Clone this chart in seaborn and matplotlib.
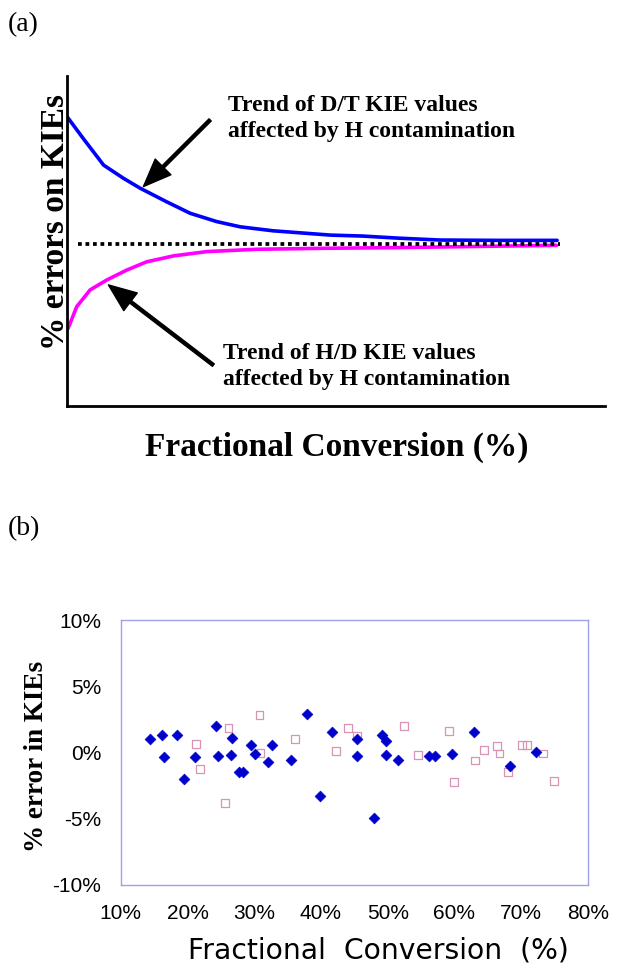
import numpy as np
import pandas as pd
import matplotlib
matplotlib.use("Agg")
import matplotlib.pyplot as plt
import seaborn as sns

sns.set_style("white")
plt.rcParams['font.family'] = ['Liberation Serif', 'DejaVu Serif']
plt.rcParams['text.color'] = 'black'
plt.rcParams['xtick.color'] = 'black'
plt.rcParams['ytick.color'] = 'black'

# (a) schematic trends, axis-fraction units
conv_dt = [0.000, 0.030, 0.068, 0.105, 0.136, 0.185, 0.229, 0.278, 0.322, 0.383, 0.489, 0.550, 0.613, 0.693, 0.799, 0.911]
err_dt = [0.877, 0.811, 0.730, 0.690, 0.660, 0.619, 0.584, 0.559, 0.543, 0.531, 0.518, 0.515, 0.509, 0.503, 0.502, 0.502]
conv_hd = [0.002, 0.018, 0.043, 0.074, 0.111, 0.148, 0.198, 0.260, 0.353, 0.476, 0.613, 0.737, 0.910]
err_hd = [0.235, 0.301, 0.352, 0.382, 0.412, 0.437, 0.455, 0.468, 0.475, 0.478, 0.480, 0.483, 0.487]
ref_x = [0.020, 0.916]
ref_level = 0.491

# (b) measured errors (%)
conv_filled = [14.4, 16.2, 16.55, 18.4, 19.55, 21.1, 24.3, 24.6, 26.6, 26.5, 27.65, 28.3, 29.5, 30.05,
               32.05, 32.6, 35.5, 37.9, 39.9, 41.6, 45.4, 45.4, 49.15, 49.75, 49.8, 48.0, 51.6, 56.25,
               57.1, 59.65, 62.9, 68.25, 72.2]
err_filled = [1.0, 1.33, -0.33, 1.35, -2.0, -0.35, 2.03, -0.28, 1.08, -0.18, -1.48, -1.48, 0.53, -0.15,
              -0.73, 0.55, -0.55, 2.9, -3.3, 1.58, 1.03, -0.25, 1.33, 0.83, -0.18, -4.93, -0.55, -0.28,
              -0.28, -0.08, 1.55, -1.0, 0.03]
conv_open = [21.25, 21.9, 26.15, 25.65, 30.8, 30.95, 36.1, 42.3, 44.0, 45.35, 52.5, 54.5, 59.2, 59.95,
             63.05, 64.45, 66.35, 66.75, 68.05, 70.15, 70.85, 73.25, 74.9]
err_open = [0.65, -1.23, 1.83, -3.8, 2.83, -0.05, 1.03, 0.13, 1.83, 1.28, 2.03, -0.18, 1.65, -2.25,
            -0.6, 0.2, 0.5, -0.08, -1.45, 0.58, 0.58, -0.08, -2.18]
x_ticks = [10, 20, 30, 40, 50, 60, 70, 80]
y_ticks = [-10, -5, 0, 5, 10]

fig = plt.figure(figsize=(6.24, 9.77), dpi=100)

# ---- panel (a)
ax_a = fig.add_axes([0.1074, 0.5844, 0.8622, 0.3378])
sns.lineplot(x=conv_dt, y=err_dt, ax=ax_a, color='#0000ff', lw=2.6, sort=False, estimator=None)
sns.lineplot(x=conv_hd, y=err_hd, ax=ax_a, color='#ff00ff', lw=2.6, sort=False, estimator=None)
ax_a.hlines(ref_level, ref_x[0], ref_x[1], colors='black', lw=2.7, linestyles=(0, (1, 1)))
ax_a.set_xlim(0, 1)
ax_a.set_ylim(0, 1)
ax_a.set_xticks([])
ax_a.set_yticks([])
for s in ['top', 'right']:
    ax_a.spines[s].set_visible(False)
for s in ['left', 'bottom']:
    ax_a.spines[s].set_color('black')
    ax_a.spines[s].set_linewidth(2)

arrow = dict(facecolor='black', edgecolor='black', width=2.2, headwidth=16, headlength=20, shrink=0)
ax_a.annotate('', xy=(0.142, 0.665), xytext=(0.266, 0.867), arrowprops=arrow)
ax_a.annotate('', xy=(0.077, 0.367), xytext=(0.272, 0.124), arrowprops=arrow)
ax_a.text(0.299, 0.871, "Trend of D/T KIE values\naffected by H contamination",
          ha='left', va='center', fontsize=17, fontweight='bold', linespacing=1.28)
ax_a.text(0.290, 0.120, "Trend of H/D KIE values\naffected by H contamination",
          ha='left', va='center', fontsize=17, fontweight='bold', linespacing=1.28)

fig.text(0.0897, 0.7728, "% errors on KIEs", rotation=90, ha='center', va='center',
         fontsize=24, fontweight='bold')
fig.text(0.539, 0.5425, "Fractional Conversion (%)", ha='center', va='center',
         fontsize=24, fontweight='bold')
fig.text(0.0128, 0.9745, "(a)", ha='left', va='center', fontsize=20)
fig.text(0.0128, 0.4586, "(b)", ha='left', va='center', fontsize=20)

# ---- panel (b)
ax_b = fig.add_axes([0.1934, 0.0942, 0.7489, 0.2712])
sns.scatterplot(x=conv_open, y=err_open, ax=ax_b, marker='s', s=32, facecolor='none',
                edgecolor='#d993b4', linewidth=0.9)
sns.scatterplot(x=conv_filled, y=err_filled, ax=ax_b, marker='D', s=30, color='#0000cc',
                edgecolor='#0000cc', linewidth=0.5)
ax_b.set_xlim(10, 80)
ax_b.set_ylim(-10, 10)
ax_b.set_xticks(x_ticks)
ax_b.set_xticklabels([f"{v}%" for v in x_ticks], family='Liberation Sans', fontsize=15)
ax_b.set_yticks(y_ticks)
ax_b.set_yticklabels([f"{v}%" for v in y_ticks], family='Liberation Sans', fontsize=15)
ax_b.tick_params(axis='both', direction='out', length=6, width=0.8, color='#a0a0e8', pad=8)
for s in ax_b.spines.values():
    s.set_color('#a0a0e8')
    s.set_linewidth(1.0)

fig.text(0.058, 0.2262, "% error in KIEs", rotation=90, ha='center', va='center',
         fontsize=19.5, fontweight='bold')
fig.text(0.6058, 0.0276, "Fractional  Conversion  (%)", ha='center', va='center',
         fontsize=20.3, family='DejaVu Sans')

fig.savefig("out.png", dpi=100)
